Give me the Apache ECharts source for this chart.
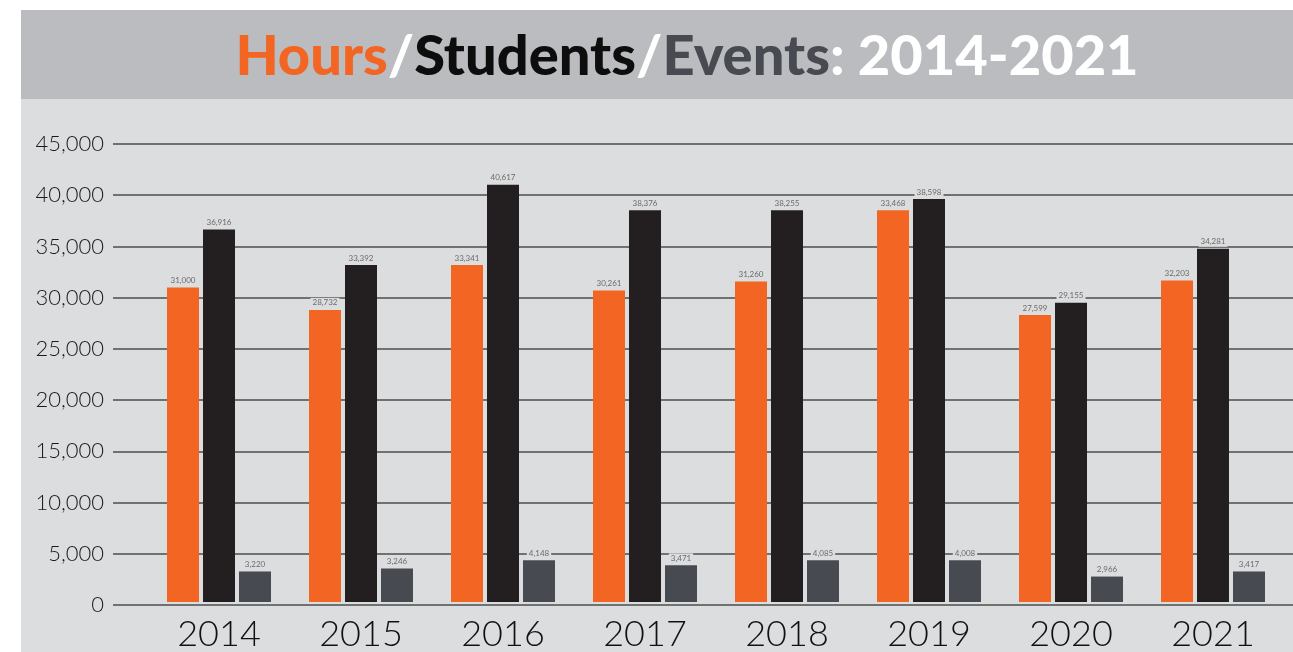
<!DOCTYPE html>
<html>
<head>
<meta charset="utf-8">
<script src="https://cdn.jsdelivr.net/npm/echarts@6/dist/echarts.min.js"></script>
<style>
  html, body { margin: 0; padding: 0; background: #fff; }
  #chart { width: 1293px; height: 652px; }
</style>
</head>
<body>
<div id="chart"></div>
<script>
const years = ['2014', '2015', '2016', '2017', '2018', '2019', '2020', '2021']
// bar heights as drawn in the picture
const hours = [30900, 28700, 33100, 30600, 31500, 38500, 28200, 31600]
const students = [36600, 33100, 41000, 38500, 38500, 39600, 29400, 34700]
const events = [3000, 3300, 4100, 3600, 4100, 4100, 2500, 3000]
// numbers printed above the bars
const hoursLabels = ['31,000', '28,732', '33,341', '30,261', '31,260', '33,468', '27,599', '32,203']
const studentsLabels = ['36,916', '33,392', '40,617', '38,376', '38,255', '38,598', '29,155', '34,281']
const eventsLabels = ['3,220', '3,246', '4,148', '3,471', '4,085', '4,008', '2,966', '3,417']

const yMax = 45000
const yStep = 5000

const font = 'Lato, "Open Sans", sans-serif'

const chart = echarts.init(document.getElementById('chart'))

function barSeries(name, values, labels, color) {
  return {
    name: name,
    type: 'bar',
    xAxisIndex: 1,
    yAxisIndex: 1,
    data: values,
    barWidth: 32,
    barGap: '12.5%',
    itemStyle: { color: color },
    label: {
      show: true,
      position: 'top',
      distance: 2,
      fontSize: 8,
      fontFamily: font,
      color: '#6b6b6b',
      backgroundColor: '#dcdddf',
      padding: [1, 2],
      formatter: p => labels[p.dataIndex]
    },
    animation: false
  }
}

chart.setOption({
  backgroundColor: '#ffffff',
  graphic: [
    { type: 'rect', left: 21, top: 10, shape: { width: 1272, height: 89 }, style: { fill: '#bbbcbf' }, z: -10 },
    { type: 'rect', left: 21, top: 99, shape: { width: 1272, height: 553 }, style: { fill: '#dcdddf' }, z: -10 }
  ],
  title: {
    text: '{h|Hours}{w|/}{s|Students}{w|/}{e|Events}{w|: 2014-2021}',
    left: 682,
    top: 24,
    textAlign: 'center',
    textStyle: {
      rich: {
        h: { color: '#f26522', fontSize: 56, fontWeight: 900, fontFamily: font },
        s: { color: '#0d0d0d', fontSize: 56, fontWeight: 900, fontFamily: font },
        e: { color: '#474a51', fontSize: 56, fontWeight: 900, fontFamily: font },
        w: { color: '#ffffff', fontSize: 56, fontWeight: 900, fontFamily: font }
      }
    }
  },
  grid: [
    { left: 113, right: 0, top: 144, bottom: 47 },
    { left: 148, right: 9, top: 144, bottom: 47 }
  ],
  xAxis: [
    { type: 'category', gridIndex: 0, data: years, show: false },
    {
      type: 'category',
      gridIndex: 1,
      data: years,
      axisLine: { show: false },
      axisTick: { show: false },
      axisLabel: { fontSize: 36, fontFamily: font, fontWeight: 300, color: '#111', margin: 14 }
    }
  ],
  yAxis: [
    {
      type: 'value',
      gridIndex: 0,
      min: 0,
      max: yMax,
      interval: yStep,
      axisLine: { show: false },
      axisTick: { show: false },
      splitLine: { lineStyle: { color: '#4d4d4d', width: 1.5 } },
      axisLabel: {
        fontSize: 22,
        fontFamily: font,
        fontWeight: 300,
        color: '#1a1a1a',
        margin: 9,
        formatter: v => v.toLocaleString('en-US')
      }
    },
    { type: 'value', gridIndex: 1, min: 0, max: yMax, interval: yStep, show: false, splitLine: { show: false } }
  ],
  series: [
    barSeries('Hours', hours, hoursLabels, '#f26522'),
    barSeries('Students', students, studentsLabels, '#231f20'),
    barSeries('Events', events, eventsLabels, '#474a51')
  ]
})
</script>
</body>
</html>
